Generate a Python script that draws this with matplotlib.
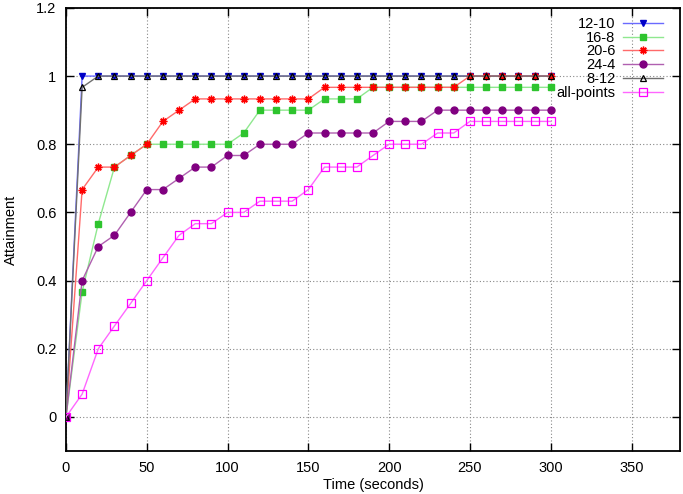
import matplotlib
matplotlib.use("Agg")
import matplotlib.pyplot as plt
from matplotlib.ticker import FixedLocator

plt.rcParams['font.family'] = ['Liberation Sans', 'DejaVu Sans']
plt.rcParams['font.size'] = 10

time_s = [0, 10, 20, 30, 40, 50, 60, 70, 80, 90, 100, 110, 120, 130, 140, 150,
          160, 170, 180, 190, 200, 210, 220, 230, 240, 250, 260, 270, 280, 290, 300]

s_12_10 = [0, 1.0] + [1.0] * 29
s_16_8 = [0, 0.367, 0.567, 0.733, 0.767, 0.8, 0.8, 0.8, 0.8, 0.8, 0.8, 0.833,
          0.9, 0.9, 0.9, 0.9, 0.933, 0.933, 0.933, 0.967, 0.967, 0.967, 0.967,
          0.967, 0.967, 0.967, 0.967, 0.967, 0.967, 0.967, 0.967]
s_20_6 = [0, 0.667, 0.733, 0.733, 0.767, 0.8, 0.867, 0.9, 0.933, 0.933, 0.933,
          0.933, 0.933, 0.933, 0.933, 0.933, 0.967, 0.967, 0.967, 0.967, 0.967,
          0.967, 0.967, 0.967, 0.967, 1.0, 1.0, 1.0, 1.0, 1.0, 1.0]
s_24_4 = [0, 0.4, 0.5, 0.533, 0.6, 0.667, 0.667, 0.7, 0.733, 0.733, 0.767,
          0.767, 0.8, 0.8, 0.8, 0.833, 0.833, 0.833, 0.833, 0.833, 0.867, 0.867,
          0.867, 0.9, 0.9, 0.9, 0.9, 0.9, 0.9, 0.9, 0.9]
s_8_12 = [0, 0.967] + [1.0] * 29
s_all = [0, 0.067, 0.2, 0.267, 0.333, 0.4, 0.467, 0.533, 0.567, 0.567, 0.6,
         0.6, 0.633, 0.633, 0.633, 0.667, 0.733, 0.733, 0.733, 0.767, 0.8, 0.8,
         0.8, 0.833, 0.833, 0.867, 0.867, 0.867, 0.867, 0.867, 0.867]

labels = ["12-10", "16-8", "20-6", "24-4", "8-12", "all-points"]
x_ticks = [0, 50, 100, 150, 200, 250, 300, 350]
y_ticks = [0, 0.2, 0.4, 0.6, 0.8, 1.0, 1.2]
y_tick_labels = ["0", "0.2", "0.4", "0.6", "0.8", "1", "1.2"]

fig = plt.figure(figsize=(6.83, 4.94), dpi=100)
ax = fig.add_axes([0.0966, 0.087, 0.899, 0.897])

styles = [
    dict(color='#6a6aff', marker='v', mfc='#0000c8', mec='#0000c8', ms=4.5),
    dict(color='#8fe88f', marker='s', mfc='#2ec42e', mec='#2ec42e', ms=5),
    dict(color='#ff6a6a', marker=(8, 2, 0), mfc='#ff0000', mec='#ff0000', ms=5.5, mew=1.0),
    dict(color='#b060b0', marker='o', mfc='#800080', mec='#800080', ms=5),
    dict(color='#707070', marker='^', mfc='none', mec='#000000', ms=4.5, mew=0.9),
    dict(color='#ff66ff', marker='s', mfc='none', mec='#ff00ff', ms=5.5, mew=0.9),
]
series = [s_12_10, s_16_8, s_20_6, s_24_4, s_8_12, s_all]

for ys, lab, st in zip(series, labels, styles):
    ax.plot(time_s, ys, label=lab, lw=1.0, zorder=3, **st)

ax.set_xlim(0, 380)
ax.set_ylim(-0.1, 1.2)
ax.xaxis.set_major_locator(FixedLocator(x_ticks))
ax.set_yticks(y_ticks)
ax.set_yticklabels(y_tick_labels)
ax.tick_params(direction='in', length=6, width=1.0, top=True, right=True,
               labelsize=10.5, pad=7, colors='black')
ax.grid(True, linestyle=(0, (1, 2)), color='#888888', linewidth=0.8, zorder=0)
for sp in ax.spines.values():
    sp.set_linewidth(1.3)

ax.set_xlabel("Time (seconds)", fontsize=10.5, labelpad=2)
ax.set_ylabel("Attainment", fontsize=10.5, labelpad=13)

leg = ax.legend(loc='upper right', markerfirst=False, frameon=False,
                fontsize=10.5, handlelength=2.75, handletextpad=0.55,
                labelspacing=-0.01, borderaxespad=0.0, borderpad=0.0,
                bbox_to_anchor=(0.973, 0.98))

fig.savefig("out.png", dpi=100)
